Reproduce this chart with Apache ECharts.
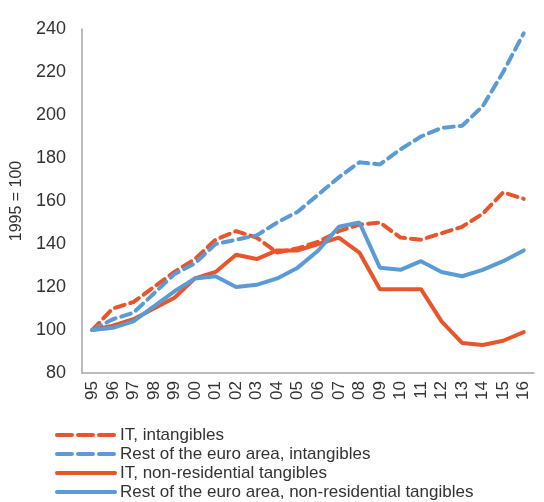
<!DOCTYPE html>
<html>
<head>
<meta charset="utf-8">
<script src="https://cdn.jsdelivr.net/npm/echarts@6/dist/echarts.min.js"></script>
<style>
  html, body { margin: 0; padding: 0; background: #fff; }
  #chart { width: 544px; height: 502px; }
</style>
</head>
<body>
<div id="chart"></div>
<script>
const years = ['95', '96', '97', '98', '99', '00', '01', '02', '03', '04', '05',
  '06', '07', '08', '09', '10', '11', '12', '13', '14', '15', '16']

const itIntangibles = [100, 110, 113, 120, 127, 133, 142, 146, 143, 136, 138,
  141, 146, 149, 150, 143, 142, 145, 148, 154, 164, 161]
const restIntangibles = [100, 105, 108, 117, 126, 131, 140, 142, 144, 150, 155,
  163, 171, 178, 177, 184, 190, 194, 195, 204, 220, 238]
const itTangibles = [100, 102, 105, 110, 115, 124, 127, 135, 133, 137, 137,
  140, 143, 136, 119, 119, 119, 104, 94, 93, 95, 99]
const restTangibles = [100, 101, 104, 111, 118, 124, 125, 120, 121, 124, 129,
  137, 148, 150, 129, 128, 132, 127, 125, 128, 132, 137]

const orange = '#E9552B'
const blue = '#5B9BD5'

const chart = echarts.init(document.getElementById('chart'))

function line(name, data, color, dashed) {
  return {
    name,
    type: 'line',
    data,
    symbol: 'none',
    z: dashed ? 2 : 3,
    lineStyle: {
      color,
      width: 4,
      type: dashed ? [10, 6] : 'solid',
      cap: 'round'
    },
    itemStyle: { color }
  }
}

chart.setOption({
  animation: false,
  textStyle: { fontFamily: 'Liberation Sans, Arial, sans-serif' },
  grid: { left: 82, right: 10, top: 29, bottom: 129 },
  legend: {
    orient: 'vertical',
    left: 55,
    top: 426,
    height: 120,
    padding: 0,
    itemWidth: 58,
    itemHeight: 14,
    itemGap: 1,
    itemStyle: { opacity: 0 },
    lineStyle: { width: 4 },
    textStyle: { fontSize: 17, color: '#333', lineHeight: 18 },
    data: [
      { name: 'IT, intangibles', lineStyle: { type: [15, 6] } },
      { name: 'Rest of the euro area, intangibles', lineStyle: { type: [15, 6] } },
      'IT, non-residential tangibles',
      'Rest of the euro area, non-residential tangibles'
    ]
  },
  xAxis: {
    type: 'category',
    data: years,
    boundaryGap: true,
    axisLine: { lineStyle: { color: '#A6A6A6', width: 1.5 } },
    axisTick: { show: false },
    axisLabel: { rotate: 90, fontSize: 17, color: '#333', margin: 8, interval: 0 }
  },
  yAxis: {
    type: 'value',
    min: 80,
    max: 240,
    interval: 20,
    name: '1995 = 100',
    nameLocation: 'middle',
    nameGap: 54,
    nameTextStyle: { fontSize: 16, color: '#333' },
    axisLine: { show: true, lineStyle: { color: '#A6A6A6', width: 1.5 } },
    axisTick: { show: false },
    splitLine: { show: false },
    axisLabel: { fontSize: 18, color: '#333', margin: 16 }
  },
  series: [
    line('IT, intangibles', itIntangibles, orange, true),
    line('Rest of the euro area, intangibles', restIntangibles, blue, true),
    line('IT, non-residential tangibles', itTangibles, orange, false),
    line('Rest of the euro area, non-residential tangibles', restTangibles, blue, false)
  ]
})
</script>
</body>
</html>
